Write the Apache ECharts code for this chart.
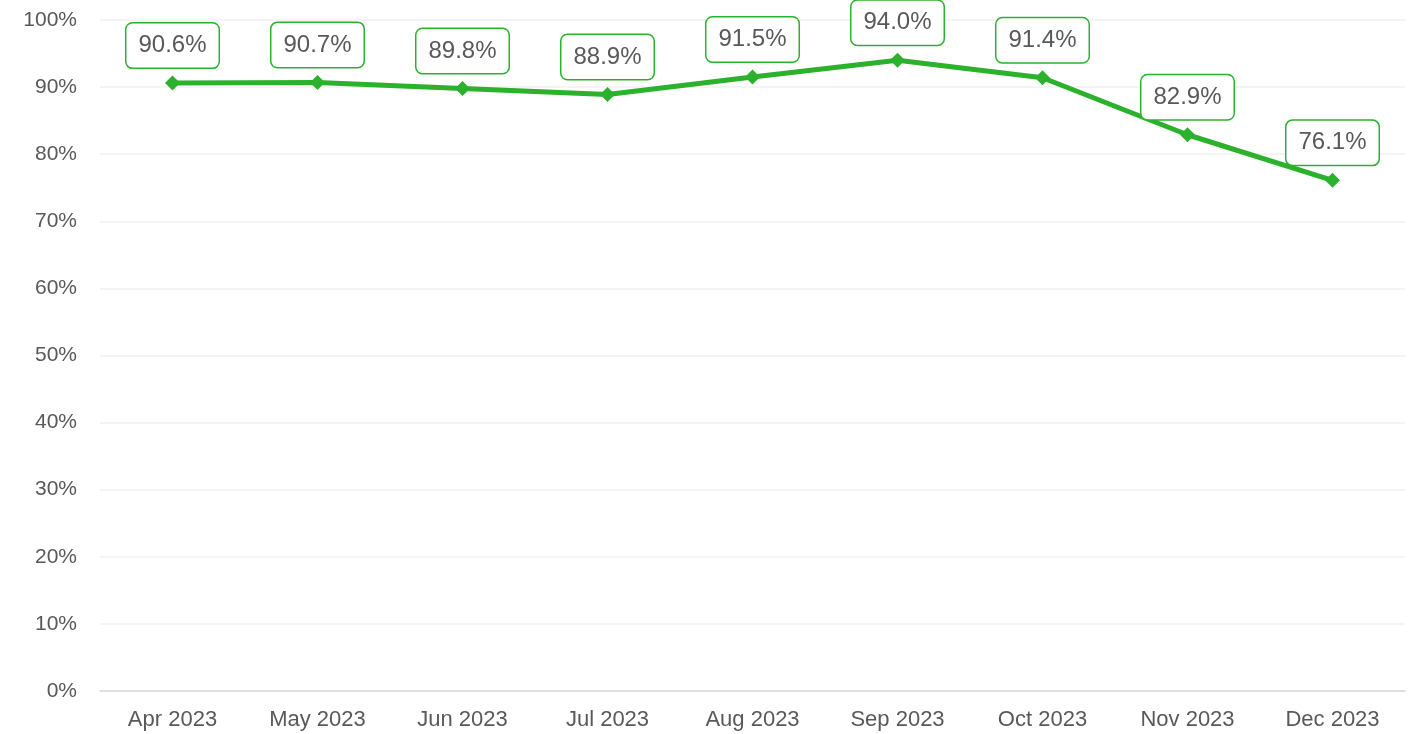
<!DOCTYPE html>
<html>
<head>
<meta charset="utf-8">
<script src="https://cdn.jsdelivr.net/npm/echarts@6/dist/echarts.min.js"></script>
<style>
  html, body { margin: 0; padding: 0; background: #fff; }
  #chart { width: 1415px; height: 734px; }
</style>
</head>
<body>
<div id="chart"></div>
<script>
var months = ['Apr 2023', 'May 2023', 'Jun 2023', 'Jul 2023', 'Aug 2023', 'Sep 2023', 'Oct 2023', 'Nov 2023', 'Dec 2023'];
var rates = [90.6, 90.7, 89.8, 88.9, 91.5, 94.0, 91.4, 82.9, 76.1];

var green = '#2BB12B';
var textGrey = '#595959';

var myChart = echarts.init(document.getElementById('chart'));

var option = {
  animation: false,
  grid: {
    left: 100,
    right: 10,
    top: 20,
    bottom: 43,
    containLabel: false
  },
  xAxis: {
    type: 'category',
    data: months,
    axisLine: { lineStyle: { color: '#d9d9d9', width: 1.5 } },
    axisTick: { show: false },
    axisLabel: {
      color: textGrey,
      fontSize: 22,
      fontFamily: 'Liberation Sans',
      margin: 18
    }
  },
  yAxis: {
    type: 'value',
    min: 0,
    max: 100,
    interval: 10,
    axisLine: { show: false },
    axisTick: { show: false },
    splitLine: { lineStyle: { color: '#f0f0f0', width: 1.5 } },
    axisLabel: {
      color: textGrey,
      fontSize: 21,
      fontFamily: 'Liberation Sans',
      margin: 23,
      formatter: '{value}%'
    }
  },
  series: [
    {
      type: 'line',
      data: rates,
      symbol: 'diamond',
      symbolSize: 15,
      lineStyle: { color: green, width: 5 },
      itemStyle: { color: green },
      label: {
        show: true,
        position: 'top',
        distance: 8,
        formatter: function (p) { return p.value.toFixed(1) + '%'; },
        color: textGrey,
        fontSize: 24,
        lineHeight: 28,
        fontFamily: 'Liberation Sans',
        backgroundColor: '#fff',
        borderColor: green,
        borderWidth: 1.5,
        borderRadius: 6,
        padding: [8, 12, 8, 12]
      }
    }
  ]
};

myChart.setOption(option, true);
</script>
</body>
</html>
